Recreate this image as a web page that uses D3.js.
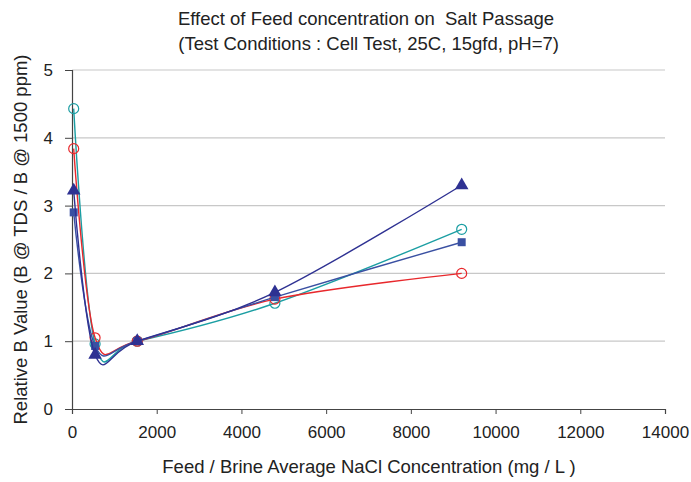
<!DOCTYPE html>
<html>
<head>
<meta charset="utf-8">
<script src="https://cdn.jsdelivr.net/npm/d3@7"></script>
<style>
  body { margin: 0; background: #fff; }
  text { font-family: "Liberation Sans", Arial, sans-serif; fill: #222; }
</style>
</head>
<body>
<div id="chart"></div>
<script>
const concentration = [40, 545, 1540, 4790, 9200];
const cyanCircles = [4.43, 0.96, 1.0, 1.56, 2.65];
const redCircles = [3.84, 1.05, 1.0, 1.62, 2.0];
const blueSquares = [2.9, 0.93, 1.0, 1.65, 2.46];
const navyTriangles = [3.22, 0.8, 1.0, 1.72, 3.3];
const xTicks = [0, 2000, 4000, 6000, 8000, 10000, 12000, 14000];
const yTicks = [0, 1, 2, 3, 4, 5];

const series = [
    { values: cyanCircles, color: "#1b9ea3", marker: "circle" },
    { values: redCircles, color: "#e8282c", marker: "circle" },
    { values: blueSquares, color: "#3a50a2", marker: "square" },
    { values: navyTriangles, color: "#2e3192", marker: "triangle" }
];

const width = 691, height = 482;
const margin = { left: 72, right: 26, top: 70, bottom: 73 };

const svg = d3.select("#chart")
    .append("svg")
    .attr("width", width)
    .attr("height", height);

const x = d3.scaleLinear().domain([0, 14000]).range([margin.left, width - margin.right]);
const y = d3.scaleLinear().domain([0, 5]).range([height - margin.bottom, margin.top]);

// gridlines
svg.append("g")
    .selectAll("line")
    .data(yTicks.filter(d => d > 0))
    .enter()
    .append("line")
    .attr("x1", x(0))
    .attr("x2", x(14000))
    .attr("y1", d => y(d))
    .attr("y2", d => y(d))
    .style("stroke", "#c8c8c8")
    .style("stroke-width", 1.2);

// axes
const xAxis = svg.append("g")
    .attr("transform", `translate(0, ${y(0)})`)
    .call(d3.axisBottom(x).tickValues(xTicks).tickSize(5).tickPadding(12).tickFormat(d3.format("d")));
const yAxis = svg.append("g")
    .attr("transform", `translate(${x(0)}, 0)`)
    .call(d3.axisLeft(y).tickValues(yTicks).tickSize(7).tickPadding(12).tickFormat(d3.format("d")));

[xAxis, yAxis].forEach(a => {
    a.select(".domain").style("stroke", "#444").style("stroke-width", 1.2);
    a.selectAll(".tick line").style("stroke", "#444");
    a.selectAll(".tick text").style("font-size", "17px").style("fill", "#222");
});

const line = d3.line()
    .x((d, i) => x(concentration[i]))
    .y(d => y(d))
    .curve(d3.curveCardinal.tension(0));

series.forEach(s => {
    svg.append("path")
        .datum(s.values)
        .attr("d", line)
        .style("fill", "none")
        .style("stroke", s.color)
        .style("stroke-width", 1.4);

    const pts = svg.append("g").selectAll("path")
        .data(s.values)
        .enter();
    if (s.marker === "circle") {
        pts.append("circle")
            .attr("cx", (d, i) => x(concentration[i]))
            .attr("cy", d => y(d))
            .attr("r", 5)
            .style("fill", "none")
            .style("stroke", s.color)
            .style("stroke-width", 1.2);
    } else {
        const sym = s.marker === "square"
            ? d3.symbol().type(d3.symbolSquare).size(64)
            : d3.symbol().type(d3.symbolTriangle).size(80);
        pts.append("path")
            .attr("d", sym)
            .attr("transform", (d, i) => `translate(${x(concentration[i])}, ${y(d)})`)
            .style("fill", s.color);
    }
});

// titles
svg.append("text")
    .attr("x", 366).attr("y", 25)
    .attr("text-anchor", "middle")
    .style("font-size", "18.5px")
    .style("white-space", "pre")
    .text("Effect of Feed concentration on  Salt Passage");
svg.append("text")
    .attr("x", 366).attr("y", 50)
    .attr("text-anchor", "middle")
    .style("font-size", "18.5px")
    .style("white-space", "pre")
    .text(" (Test Conditions : Cell Test, 25C, 15gfd, pH=7)");

svg.append("text")
    .attr("x", 369).attr("y", 473)
    .attr("text-anchor", "middle")
    .style("font-size", "18.5px")
    .text("Feed / Brine Average NaCl Concentration (mg / L )");

svg.append("text")
    .attr("transform", `translate(27, ${(y(0) + y(5)) / 2}) rotate(-90)`)
    .attr("text-anchor", "middle")
    .style("font-size", "18.5px")
    .text("Relative B Value (B @ TDS / B @ 1500 ppm)");
</script>
</body>
</html>
